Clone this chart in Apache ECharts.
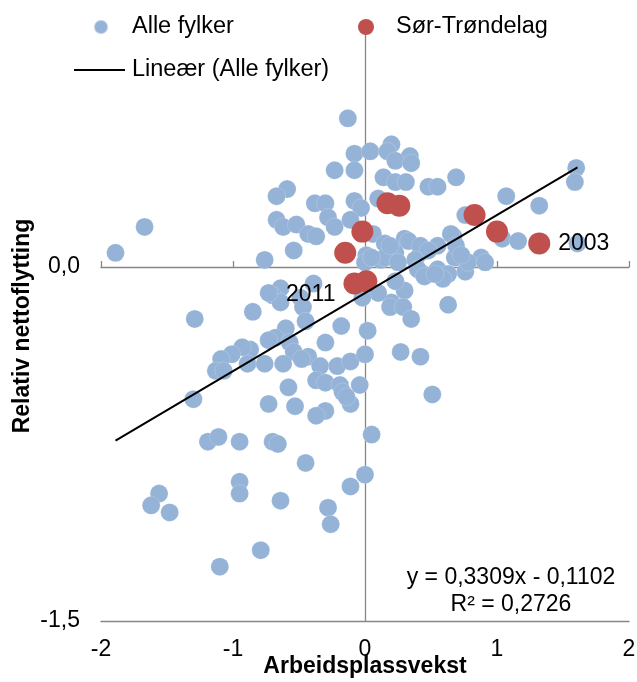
<!DOCTYPE html>
<html>
<head>
<meta charset="utf-8">
<script src="https://cdn.jsdelivr.net/npm/echarts@6/dist/echarts.min.js"></script>
<style>
  html, body { margin: 0; padding: 0; background: #fff; }
  #chart { width: 637px; height: 682px; }
</style>
</head>
<body>
<div id="chart"></div>
<script>
// Alle fylker (x = arbeidsplassvekst, y = relativ nettoflytting)
const blueX = [-0.13,-0.08,0.04,0.20,0.17,0.34,0.23,0.35,-0.23,-0.08,0.14,0.23,0.31,0.48,-0.59,-0.67,-0.38,-0.30,-0.08,-0.03,
  0.10,-0.67,-0.62,-0.52,-0.43,-0.37,-0.28,-0.23,-0.11,0.06,0.15,0.30,0.23,-0.54,-0.76,0.01,0.12,0.00,0.42,0.44,
  0.55,0.69,1.07,1.32,1.60,1.59,0.76,1.04,1.16,0.67,0.55,1.61,0.88,0.68,0.76,-1.89,-1.67,0.33,0.42,0.48,
  0.65,0.69,0.38,0.40,0.55,0.63,0.45,0.30,0.20,0.15,0.19,0.05,0.25,0.78,0.91,0.59,0.73,-0.39,-0.64,-0.70,
  -0.64,-0.85,-0.49,-0.47,-0.45,-0.60,-0.68,-0.57,-0.54,-0.43,-0.87,-0.89,-0.76,-0.62,-0.48,-0.34,-0.18,-0.30,-0.37,-0.30,
  -0.21,-0.11,0.00,-0.19,-0.17,-0.04,-0.11,-0.14,-0.30,-0.37,-0.53,-0.73,-0.58,-0.70,-0.66,-0.95,0.02,0.05,0.27,0.42,
  0.51,0.10,0.19,0.29,0.35,0.23,0.53,0.63,-1.29,-0.73,-0.93,-1.01,-1.09,-1.13,-1.07,-0.73,-1.30,-1.19,-1.11,-0.45,
  0.00,-0.11,-0.95,-0.95,-0.64,-1.56,-1.62,-1.48,-0.28,-0.26,-0.79,-1.10,-0.02];
const blueY = [0.63,0.48,0.49,0.52,0.49,0.47,0.45,0.44,0.41,0.41,0.38,0.36,0.36,0.34,0.33,0.30,0.27,0.27,0.28,0.25,
  0.29,0.20,0.17,0.18,0.14,0.13,0.21,0.17,0.20,0.14,0.10,0.12,0.06,0.07,0.03,0.05,0.03,0.02,0.06,-0.03,
  0.34,0.38,0.30,0.26,0.42,0.36,0.22,0.12,0.11,0.13,0.09,0.10,0.04,0.04,-0.02,0.06,0.17,0.11,0.09,0.07,
  0.14,0.09,0.03,-0.01,-0.01,-0.03,-0.04,-0.10,-0.15,0.04,0.09,0.04,0.02,0.02,0.02,-0.05,0.05,-0.07,-0.09,-0.12,
  -0.15,-0.19,-0.13,-0.17,-0.23,-0.26,-0.30,-0.32,-0.36,-0.38,-0.35,-0.41,-0.41,-0.41,-0.39,-0.42,-0.25,-0.32,-0.48,-0.49,
  -0.42,-0.40,-0.37,-0.50,-0.53,-0.50,-0.58,-0.55,-0.61,-0.63,-0.59,-0.58,-0.51,-0.74,-0.75,-0.74,-0.27,-0.71,-0.36,-0.38,
  -0.54,-0.11,-0.17,-0.17,-0.22,-0.06,-0.03,-0.16,-0.22,-0.11,-0.34,-0.37,-0.39,-0.44,-0.44,-0.31,-0.56,-0.74,-0.72,-0.83,
  -0.88,-0.93,-0.91,-0.96,-0.99,-0.96,-1.01,-1.04,-1.02,-1.09,-1.20,-1.27,-0.13];

// Sør-Trøndelag, 2003-2011
const redYears = ['2003','2004','2005','2006','2007','2008','2009','2010','2011'];
const redX = [1.32, 1.00, 0.83, 0.26, 0.17, -0.02, -0.15, 0.01, -0.08];
const redY = [0.10, 0.15, 0.22, 0.26, 0.27, 0.15, 0.06, -0.06, -0.07];
const labelledYears = ['2003', '2011'];

// lineær trend (Alle fylker)
const slope = 0.3309;
const intercept = -0.1102;
const rSquared = 0.2726;

const xTicks = [-2, -1, 0, 1, 2];
const yTicks = [-1.5, 0];

const comma = (v, d) => v.toFixed(d).replace('.', ',');

const blueData = blueX.map((x, i) => [x, blueY[i]]);
const redData = redX.map((x, i) => ({
  value: [x, redY[i]],
  label: {
    show: labelledYears.includes(redYears[i]),
    formatter: redYears[i],
    position: redYears[i] === '2011' ? 'left' : 'right',
    offset: redYears[i] === '2011' ? [0, 11] : [0, 0]
  }
}));
const xMin = Math.min(...blueX), xMax = Math.max(...blueX);
const trendData = [[xMin, slope * xMin + intercept], [xMax, slope * xMax + intercept]];

const font = '"Liberation Sans", Arial, sans-serif';
const axisGray = '#868686';

const chart = echarts.init(document.getElementById('chart'));
const option = {
  animation: false,
  textStyle: { fontFamily: font },
  grid: { left: 101, right: 8, top: 31, bottom: 61, containLabel: false, outerBoundsMode: 'none' },
  legend: [
    { data: ['Alle fylker'], left: 93, top: 15, padding: 0, itemWidth: 14, itemHeight: 14, icon: 'circle',
      textStyle: { fontSize: 23.5, color: '#000', fontFamily: font, padding: [0, 0, 0, 19], lineHeight: 24 } },
    { data: ['Sør-Trøndelag'], left: 358, top: 15, padding: 0, itemWidth: 16, itemHeight: 16, icon: 'circle',
      textStyle: { fontSize: 23.5, color: '#000', fontFamily: font, padding: [0, 0, 0, 17], lineHeight: 24 } },
    { data: ['Lineær (Alle fylker)'], left: 73, top: 58, padding: 0, itemWidth: 51, itemHeight: 14,
      itemStyle: { opacity: 0 },
      textStyle: { fontSize: 23.5, color: '#000', fontFamily: font, padding: [0, 0, 0, 2], lineHeight: 24 } }
  ],
  xAxis: [
    {
      type: 'value', min: -2, max: 2, interval: 1,
      name: 'Arbeidsplassvekst', nameLocation: 'middle', nameGap: 34, nameMoveOverlap: false,
      nameTextStyle: { fontSize: 23, fontWeight: 'bold', color: '#000', fontFamily: font },
      axisLine: { onZero: false, lineStyle: { color: axisGray, width: 1.3 } },
      axisTick: { show: false },
      splitLine: { show: false },
      axisLabel: { fontSize: 23, color: '#000', margin: 17, fontFamily: font,
        formatter: v => xTicks.includes(v) ? String(v) : '' }
    },
    {
      type: 'value', min: -2, max: 2, interval: 1,
      axisLine: { onZero: true, lineStyle: { color: axisGray, width: 1.3 } },
      axisTick: { show: true, inside: false, length: 6, lineStyle: { color: axisGray, width: 1.3 } },
      axisLabel: { show: false },
      splitLine: { show: false }
    }
  ],
  yAxis: [
    {
      type: 'value', min: -1.5, max: 1, interval: 1.5,
      name: 'Relativ nettoflytting', nameLocation: 'middle', nameGap: 67, nameRotate: 90, nameMoveOverlap: false,
      nameTextStyle: { fontSize: 23, fontWeight: 'bold', color: '#000', fontFamily: font },
      axisLine: { show: false },
      axisTick: { show: false },
      splitLine: { show: false },
      axisLabel: { fontSize: 23, color: '#000', margin: 21, fontFamily: font,
        formatter: v => yTicks.some(t => Math.abs(t - v) < 1e-9) ? comma(v, 1) : '' }
    },
    {
      type: 'value', min: -1.5, max: 1, interval: 1.5,
      axisLine: { show: true, onZero: true, lineStyle: { color: axisGray, width: 1.3 } },
      axisTick: { show: false },
      axisLabel: { show: false },
      splitLine: { show: false }
    }
  ],
  graphic: [
    { type: 'text', x: 511, y: 578, z: 10, style: { text: 'y = ' + comma(slope, 4) + 'x - ' + comma(-intercept, 4),
        font: '23px ' + font, fill: '#000', align: 'center', verticalAlign: 'middle' } },
    { type: 'text', x: 511, y: 605, z: 10, style: { text: 'R² = ' + comma(rSquared, 4),
        font: '23px ' + font, fill: '#000', align: 'center', verticalAlign: 'middle' } }
  ],
  series: [
    {
      name: 'Alle fylker', type: 'scatter', data: blueData, symbolSize: 18, z: 2,
      itemStyle: { color: '#95b3d7', opacity: 1, borderColor: 'rgba(255,255,255,0.35)', borderWidth: 0.5 }
    },
    {
      name: 'Sør-Trøndelag', type: 'scatter', data: redData, symbolSize: 22, z: 3,
      itemStyle: { color: '#c0504d', opacity: 1 },
      label: { fontSize: 23, color: '#000', fontFamily: font, distance: 8 }
    },
    {
      name: 'Lineær (Alle fylker)', type: 'line', data: trendData, z: 4,
      symbol: 'none', showSymbol: false, silent: true,
      lineStyle: { color: '#000', width: 2 }, itemStyle: { color: '#000' }
    }
  ]
};
chart.setOption(option);
</script>
</body>
</html>
